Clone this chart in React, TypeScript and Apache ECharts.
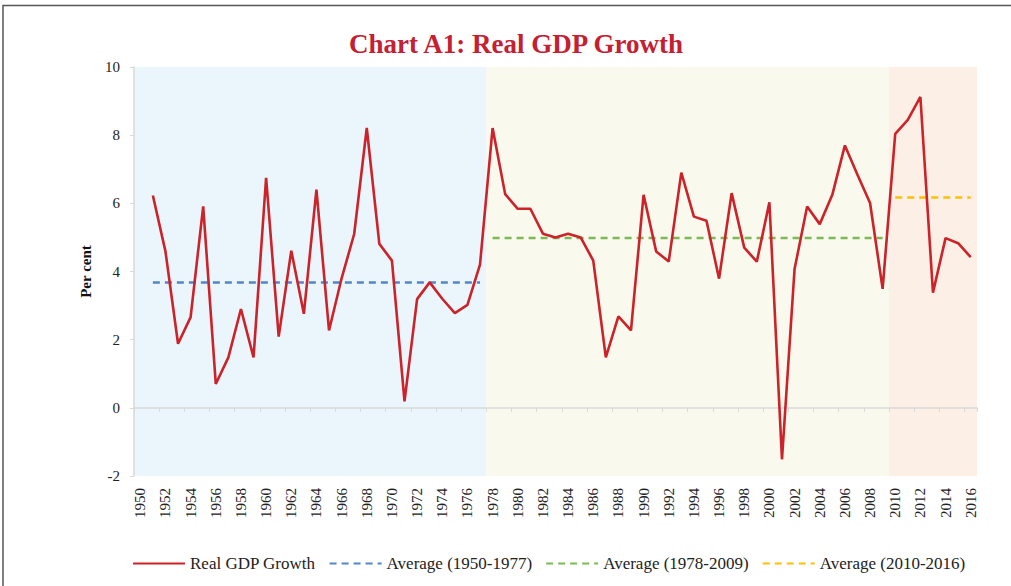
import React, { useEffect, useRef } from "react";
import * as echarts from "echarts";

const years: string[] = [];
for (let y = 1950; y <= 2016; y++) years.push(String(y));

// Real GDP growth (per cent); 1950 has no plotted value in the reference
const gdpGrowth: (number | null)[] = [
  null, 6.23, 4.59, 1.88, 2.66, 5.91, 0.7, 1.48, 2.9, 1.48,
  6.75, 2.09, 4.61, 2.76, 6.4, 2.27, 3.8, 5.1, 8.21, 4.81,
  4.32, 0.19, 3.19, 3.68, 3.2, 2.78, 3.02, 4.2, 8.21, 6.27,
  5.84, 5.84, 5.11, 5.0, 5.11, 5.0, 4.32, 1.48, 2.68, 2.27,
  6.25, 4.59, 4.29, 6.9, 5.61, 5.49, 3.79, 6.3, 4.7, 4.29,
  6.03, -1.51, 4.07, 5.91, 5.39, 6.25, 7.7, 6.84, 6.01, 3.49,
  8.04, 8.45, 9.12, 3.38, 4.98, 4.83, 4.42,
];

// Period averages
const avgNames = ["Average (1950-1977)", "Average (1978-2009)", "Average (2010-2016)"];
const avgFrom = ["1951", "1978", "2010"];
const avgTo = ["1977", "2009", "2016"];
const avgValues = [3.68, 4.98, 6.17];

// Shaded periods
const periodFrom = ["1950", "1978", "2010"];
const periodTo = ["1977", "2009", "2016"];

const yTicks = { min: -2, max: 10, interval: 2 };

const FONT = "'Liberation Serif', 'Times New Roman', serif";
const periodColors = ["#EAF6FB", "#F9F9EE", "#FCEFE6"];
const avgColors = ["#5585C8", "#7CBA55", "#FFC000"];

export default function App() {
  const ref = useRef<HTMLDivElement>(null);
  useEffect(() => {
    if (!ref.current) return;
    const chart = echarts.init(ref.current, null, { renderer: "svg" });

    const avgSeries = avgNames.map((name, i) => {
      const a = years.indexOf(avgFrom[i]);
      const b = years.indexOf(avgTo[i]);
      return {
        name,
        type: "line",
        xAxisIndex: 0,
        yAxisIndex: 0,
        symbol: "none",
        legendIcon: "none",
        silent: true,
        z: 3,
        data: years.map((_, k) => (k >= a && k <= b ? avgValues[i] : null)),
        lineStyle: { color: avgColors[i], width: 2.5, type: [7, 5] },
        itemStyle: { color: avgColors[i] },
      };
    });

    const periodData = periodFrom.map((f, i) => [
      years.indexOf(f),
      years.indexOf(periodTo[i]),
      i,
    ]);

    chart.setOption({
      animation: false,
      title: {
        text: "Chart A1: Real GDP Growth",
        left: 511,
        textAlign: "center",
        top: 25,
        textStyle: {
          color: "#C42032",
          fontFamily: FONT,
          fontWeight: "bold",
          fontSize: 27,
        },
      },
      graphic: [
        {
          type: "polyline",
          shape: { points: [[3, 700], [3, 5.5], [1100, 5.5]] },
          style: { stroke: "#555", lineWidth: 1.5, fill: "none" },
          silent: true,
        },
      ],
      grid: { left: 134, right: 34, top: 67, bottom: 110, containLabel: false },
      legend: {
        left: 127,
        top: 550,
        itemWidth: 52,
        itemHeight: 14,
        itemGap: 13,
        itemStyle: { opacity: 0, borderWidth: 0 },
        textStyle: { fontFamily: FONT, fontSize: 17, color: "#222" },
        data: ["Real GDP Growth", ...avgNames],
      },
      xAxis: [
        {
          type: "category",
          data: years,
          boundaryGap: true,
          position: "bottom",
          axisLine: { show: false, onZero: false },
          axisTick: { show: false },
          axisLabel: {
            interval: 1,
            rotate: 90,
            margin: 12,
            fontFamily: FONT,
            fontSize: 15,
            color: "#222",
          },
          splitLine: { show: false },
        },
        {
          type: "category",
          data: years,
          boundaryGap: true,
          position: "bottom",
          axisLine: { show: true, onZero: true, lineStyle: { color: "#D9D9D9", width: 1.5 } },
          axisTick: { show: true, interval: 1, length: 4, lineStyle: { color: "#D9D9D9" } },
          axisLabel: { show: false },
          splitLine: { show: false },
        },
      ],
      yAxis: {
        type: "value",
        min: yTicks.min,
        max: yTicks.max,
        interval: yTicks.interval,
        name: "Per cent",
        nameLocation: "middle",
        nameGap: 41,
        nameRotate: 90,
        nameTextStyle: { fontFamily: FONT, fontSize: 15, fontWeight: "bold", color: "#111" },
        axisLine: { show: true, lineStyle: { color: "#D9D9D9", width: 1.5 } },
        axisTick: { show: true, length: 4, lineStyle: { color: "#D9D9D9" } },
        axisLabel: { fontFamily: FONT, fontSize: 15, color: "#222", margin: 14 },
        splitLine: { show: false },
      },
      series: [
        {
          type: "custom",
          name: "periods",
          xAxisIndex: 0,
          yAxisIndex: 0,
          silent: true,
          z: 0,
          data: periodData,
          renderItem: (params: any, api: any) => {
            const s = api.value(0);
            const e = api.value(1);
            const c = api.value(2);
            const bw = api.size([1, 0])[0];
            const p0 = api.coord([s, yTicks.max]);
            const p1 = api.coord([e, yTicks.min]);
            return {
              type: "rect",
              shape: {
                x: p0[0] - bw / 2,
                y: p0[1],
                width: p1[0] - p0[0] + bw,
                height: p1[1] - p0[1],
              },
              style: { fill: periodColors[c] },
            };
          },
        },
        {
          name: "Real GDP Growth",
          type: "line",
          xAxisIndex: 0,
          yAxisIndex: 0,
          symbol: "none",
          legendIcon: "none",
          z: 4,
          data: gdpGrowth,
          lineStyle: { color: "#CC2229", width: 2.6 },
          itemStyle: { color: "#CC2229" },
        },
        ...avgSeries,
      ],
    });
    return () => chart.dispose();
  }, []);

  return (
    <div
      ref={ref}
      style={{ position: "fixed", left: 0, top: 0, width: 1011, height: 586, background: "#fff" }}
    />
  );
}
